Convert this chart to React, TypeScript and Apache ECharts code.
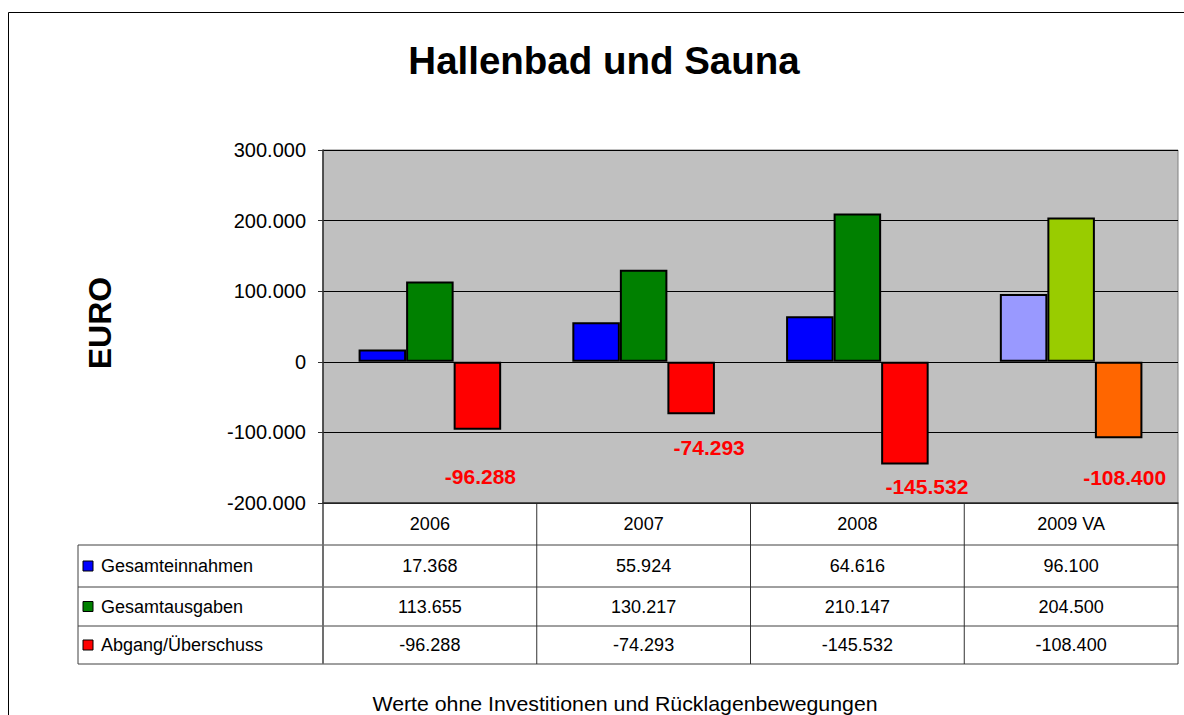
import { useEffect, useRef } from "react";
import * as echarts from "echarts";

const categories = ["2006", "2007", "2008", "2009 VA"];
const seriesNames = ["Gesamteinnahmen", "Gesamtausgaben", "Abgang/Überschuss"];
const einnahmen = [17368, 55924, 64616, 96100];
const ausgaben = [113655, 130217, 210147, 204500];
const abgang = [-96288, -74293, -145532, -108400];
const yMin = -200000;
const yMax = 300000;
const yInterval = 100000;
const seriesColors = ["#0000FF", "#008000", "#FF0000"];
const forecastColors = ["#9999FF", "#99CC00", "#FF6600"];
const labelOffsets = [[3, 36], [18, 23], [22, 11], [6, 29]];
const titleText = "Hallenbad und Sauna";
const yAxisName = "EURO";
const footnote = "Werte ohne Investitionen und Rücklagenbewegungen";

const FONT = "'Liberation Sans', Arial, Helvetica, sans-serif";

function fmt(v: number): string {
  const s = Math.abs(Math.round(v)).toString().replace(/\B(?=(\d{3})+(?!\d))/g, ".");
  return (v < 0 ? "-" : "") + s;
}

export default function App() {
  const ref = useRef<HTMLDivElement>(null);
  useEffect(() => {
    if (!ref.current) return;
    const chart = echarts.init(ref.current, undefined, { renderer: "svg" });

    const gridLeft = 323;
    const gridTop = 150;
    const gridWidth = 855;
    const gridHeight = 353;
    const gridRight = gridLeft + gridWidth;
    const gridBottom = gridTop + gridHeight;
    const rowEdges = [gridBottom, 545, 587, 626, 664];
    const tableLeft = 78;
    const colW = gridWidth / categories.length;
    const colX = (i: number) => gridLeft + i * colW;

    const allSeries = [einnahmen, ausgaben, abgang];

    const graphics: any[] = [];
    // outer frame
    graphics.push({
      type: "rect",
      shape: { x: 8.5, y: 12.5, width: 1300, height: 900 },
      style: { fill: "none", stroke: "#000", lineWidth: 1 },
      silent: true,
    });
    graphics.push({
      type: "text",
      x: 604,
      y: 61,
      scaleX: 1.013,
      style: {
        text: titleText,
        fontFamily: FONT,
        fontSize: 38,
        fontWeight: "bold",
        fill: "#000",
        align: "center",
        verticalAlign: "middle",
      },
    });
    graphics.push({
      type: "text",
      x: 100,
      y: 323,
      rotation: Math.PI / 2,
      style: {
        text: yAxisName,
        fontFamily: FONT,
        fontSize: 32,
        fontWeight: "bold",
        fill: "#000",
        align: "center",
        verticalAlign: "middle",
      },
    });
    graphics.push({
      type: "text",
      x: 625,
      y: 704,
      scaleX: 1.065,
      style: {
        text: footnote,
        fontFamily: FONT,
        fontSize: 20,
        fill: "#000",
        align: "center",
        verticalAlign: "middle",
      },
    });
    // table horizontal lines
    for (let r = 1; r < rowEdges.length; r++) {
      graphics.push({
        type: "line",
        shape: { x1: tableLeft, y1: rowEdges[r], x2: gridRight, y2: rowEdges[r] },
        style: { stroke: "#404040", lineWidth: 1 },
      });
    }
    graphics.push({
      type: "line",
      shape: { x1: tableLeft, y1: rowEdges[1], x2: tableLeft, y2: rowEdges[rowEdges.length - 1] },
      style: { stroke: "#404040", lineWidth: 1 },
    });
    for (let i = 0; i <= categories.length; i++) {
      graphics.push({
        type: "line",
        shape: { x1: colX(i), y1: gridBottom, x2: colX(i), y2: rowEdges[rowEdges.length - 1] },
        style: { stroke: i === 0 ? "#707070" : "#303030", lineWidth: i === 0 ? 2 : 1 },
      });
    }
    // rows
    for (let s = 0; s < seriesNames.length; s++) {
      const cy = (rowEdges[s + 1] + rowEdges[s + 2]) / 2;
      graphics.push({
        type: "rect",
        shape: { x: 83, y: cy - 5, width: 10, height: 10 },
        style: { fill: seriesColors[s], stroke: "#000", lineWidth: 1 },
      });
      graphics.push({
        type: "text",
        x: 101,
        y: cy,
        style: {
          text: seriesNames[s],
          fontFamily: FONT,
          fontSize: 18,
          fill: "#000",
          align: "left",
          verticalAlign: "middle",
        },
      });
      allSeries[s].forEach((v, i) => {
        graphics.push({
          type: "text",
          x: colX(i) + colW / 2,
          y: cy,
          style: {
            text: fmt(v),
            fontFamily: FONT,
            fontSize: 18,
            fill: "#000",
            align: "center",
            verticalAlign: "middle",
          },
        });
      });
    }

    const makeData = (vals: number[], s: number) =>
      vals.map((v, i) => {
        const item: any = { value: v };
        if (i === vals.length - 1) item.itemStyle = { color: forecastColors[s] };
        if (s === 2) {
          item.label = { offset: labelOffsets[i] };
        }
        return item;
      });

    chart.setOption({
      animation: false,
      backgroundColor: "#FFFFFF",
      textStyle: { fontFamily: FONT },
      grid: {
        left: gridLeft,
        top: gridTop,
        width: gridWidth,
        height: gridHeight,
        show: true,
        backgroundColor: "#C0C0C0",
        borderColor: "#808080",
        borderWidth: 1,
      },
      xAxis: {
        type: "category",
        data: categories,
        position: "bottom",
        axisLine: { show: true, onZero: false, lineStyle: { color: "#303030", width: 1.5 } },
        axisTick: { show: false },
        axisLabel: { color: "#000", fontSize: 18, fontFamily: FONT, margin: 12 },
        splitLine: { show: false },
      },
      yAxis: {
        type: "value",
        min: yMin,
        max: yMax,
        interval: yInterval,
        axisLine: { show: true, lineStyle: { color: "#303030", width: 1.5 } },
        axisTick: { show: true, inside: false, length: 5, lineStyle: { color: "#303030" } },
        axisLabel: {
          color: "#000",
          fontSize: 20,
          fontFamily: FONT,
          margin: 17,
          formatter: (v: number) => fmt(v),
        },
        splitLine: { show: true, lineStyle: { color: "#000", width: 1 } },
      },
      series: [einnahmen, ausgaben, abgang].map((vals, s) => ({
        name: seriesNames[s],
        type: "bar",
        data: makeData(vals, s),
        barGap: "0%",
        barCategoryGap: "33.3%",
        itemStyle: { color: seriesColors[s], borderColor: "#000", borderWidth: 2 },
        label:
          s === 2
            ? {
                show: true,
                position: "bottom",
                distance: 0,
                color: "#FF0000",
                fontSize: 21,
                fontWeight: "bold",
                fontFamily: FONT,
                formatter: (p: any) => fmt(p.value),
              }
            : { show: false },
      })),
      graphic: graphics,
    });

    return () => chart.dispose();
  }, []);

  return (
    <div
      ref={ref}
      style={{ position: "absolute", left: 0, top: 0, width: 1184, height: 715 }}
    />
  );
}
